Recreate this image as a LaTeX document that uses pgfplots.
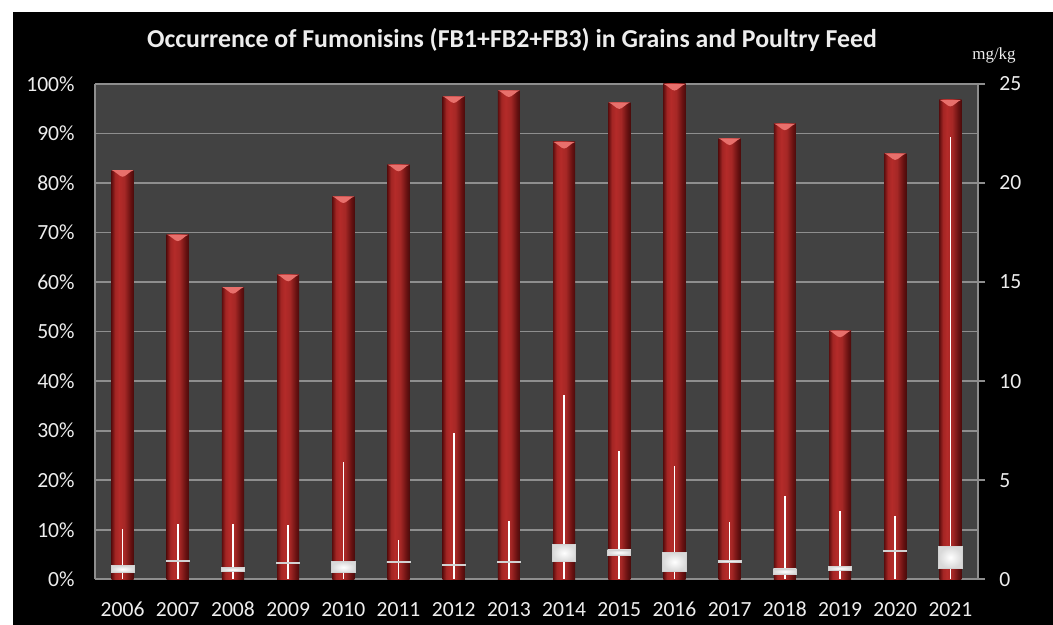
\documentclass[border=0pt]{standalone}
\usepackage{pgfplots}
\usepackage{pgfplotstable}
\pgfplotsset{compat=1.18}
\usepgfplotslibrary{statistics}
\usepackage{fontspec}
\setmainfont{Carlito}
\newfontfamily\serifmg{Liberation Serif}
\definecolor{plotbg}{HTML}{424242}
\definecolor{gridc}{HTML}{8E8E8E}
\definecolor{bardark}{HTML}{5E0E0E}
\definecolor{barmid}{HTML}{B42B29}
\definecolor{barcap}{HTML}{E8706C}
\definecolor{labc}{HTML}{EDEDED}

\pgfdeclarehorizontalshading{barshade}{100bp}{color(0bp)=(bardark); color(25bp)=(bardark); color(33bp)=(barmid!80!bardark); color(42bp)=(barmid); color(54bp)=(barmid!92!black); color(68bp)=(bardark!90!barmid); color(75bp)=(bardark!80!black); color(100bp)=(bardark!80!black)}

\pgfdeclareplotmark{cap}{%
  \pgfpathmoveto{\pgfqpoint{-5.4pt}{0pt}}%
  \pgfpathcurveto{\pgfqpoint{-3.5pt}{-0.6pt}}{\pgfqpoint{-1.5pt}{-3.3pt}}{\pgfqpoint{0pt}{-3.3pt}}%
  \pgfpathcurveto{\pgfqpoint{1.5pt}{-3.3pt}}{\pgfqpoint{3.5pt}{-0.6pt}}{\pgfqpoint{5.4pt}{0pt}}%
  \pgfpathclose
  \pgfusepathqfill}

\pgfplotstableread{
x y
0 82.6
1 69.6
2 59.0
3 61.5
4 77.3
5 83.7
6 97.5
7 98.7
8 88.3
9 96.3
10 100
11 89.0
12 92.0
13 50.2
14 86.0
15 96.8
}\bars

\newcommand{\bx}[4]{\addplot[white, boxplot prepared={draw position=#1, lower whisker=0, lower quartile=#2, median=#2, upper quartile=#3, upper whisker=#4}] coordinates {};}

\begin{document}
\begin{tikzpicture}
\fill[white] (-47.5pt,-22.85pt) rectangle (479pt,289.65pt);
\useasboundingbox (-47.5pt,-22.85pt) rectangle (479pt,289.65pt);
\fill[black] (-41pt,-22.85pt) rectangle (479pt,283.65pt);
\begin{axis}[
  at={(0,0)}, anchor=south west, scale only axis,
  width=441.5pt, height=247.65pt,
  xmin=-0.5, xmax=15.5, ymin=0, ymax=100,
  axis background/.style={fill=plotbg},
  axis line style={draw=gridc, line width=0.8pt},
  axis y line*=left, axis x line*=bottom,
  ymajorgrids, grid style={draw=gridc, line width=0.8pt},
  xtick={0,...,15},
  xticklabels={2006,2007,2008,2009,2010,2011,2012,2013,2014,2015,2016,2017,2018,2019,2020,2021},
  ytick={0,10,...,100},
  yticklabels={0\%,10\%,20\%,30\%,40\%,50\%,60\%,70\%,80\%,90\%,100\%},
  major tick length=0pt,
  tick label style={text=labc, font=\fontsize{10.8}{12}\selectfont, inner sep=0pt},
  yticklabel style={xshift=-10pt},
  xticklabel style={anchor=north, text height=7pt, text depth=0pt, yshift=-11.5pt},
]
\pgfplotsinvokeforeach{0,...,15}{
\addplot[ybar, bar width=0.4, bar shift=0pt, draw=none, shading=barshade,
  x filter/.expression={x==#1 ? x : nan}] table[x=x,y=y]{\bars};
}
\addplot[only marks, mark=cap, color=barcap] table[x=x,y=y]{\bars};
\end{axis}
\begin{axis}[
  at={(0,0)}, anchor=south west, scale only axis,
  width=441.5pt, height=247.65pt,
  xmin=-0.5, xmax=15.5, ymin=0, ymax=25,
  axis y line*=right, axis x line=none,
  ytick={0,5,...,25}, yticklabels={0,5,10,15,20,25},
  tick align=outside, major tick length=3.5pt,
  tick style={draw=gridc, line width=0.8pt},
  axis line style={draw=gridc, line width=0.8pt},
  tick label style={text=labc, font=\fontsize{10.8}{12}\selectfont, inner sep=0pt},
  yticklabel style={xshift=7pt},
  boxplot/draw direction=y,
  boxplot/box extend=0.42,
  boxplot/whisker extend=0,
  boxplot/every box/.style={draw=gray!35, line width=0.4pt, inner color=white, outer color=gray!30},
  boxplot/every whisker/.style={draw=white, line width=0.8pt},
  boxplot/every median/.style={draw=none},
]
\bx{0}{0.34}{0.69}{2.54}
\bx{1}{0.92}{0.96}{2.79}
\bx{2}{0.38}{0.59}{2.79}
\bx{3}{0.82}{0.86}{2.74}
\bx{4}{0.33}{0.89}{5.93}
\bx{5}{0.87}{0.91}{1.98}
\bx{6}{0.69}{0.74}{7.39}
\bx{7}{0.84}{0.89}{2.96}
\bx{8}{0.89}{1.77}{9.31}
\bx{9}{1.23}{1.48}{6.48}
\bx{10}{0.42}{1.34}{5.74}
\bx{11}{0.84}{0.97}{2.88}
\bx{12}{0.27}{0.52}{4.19}
\bx{13}{0.43}{0.67}{3.45}
\bx{14}{1.42}{1.46}{3.21}
\bx{15}{0.56}{1.65}{22.3}
\end{axis}
\node[font=\bfseries\fontsize{12.9}{15}\selectfont, text=labc] at (208.5pt,269.65pt) {Occurrence of Fumonisins (FB1+FB2+FB3) in Grains and Poultry Feed};
\node[font=\serifmg\fontsize{8.5}{10}\selectfont, text=labc] at (449.5pt,262pt) {mg/kg};
\end{tikzpicture}
\end{document}
